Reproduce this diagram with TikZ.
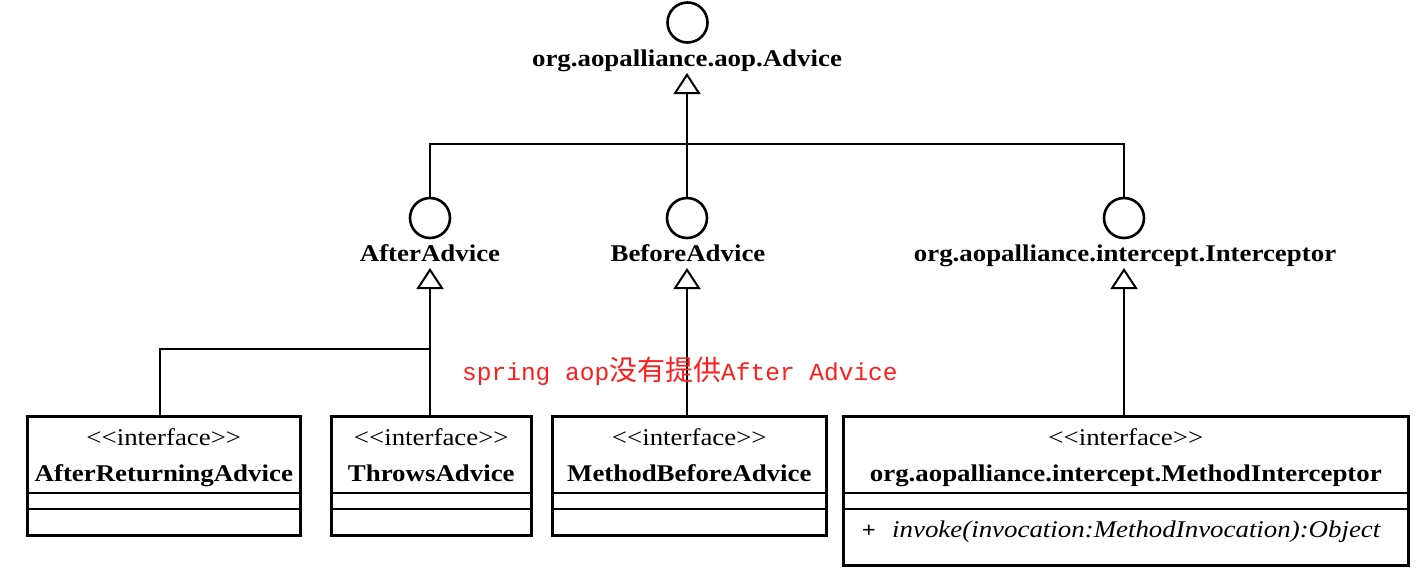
\documentclass[tikz,border=0pt]{standalone}
\usepackage{fontspec}
\setmainfont{Liberation Serif}[FakeStretch=1.12]
\newfontfamily\monof{Liberation Mono}
\newfontfamily\cjkf{Noto Sans CJK SC}
\usetikzlibrary{arrows.meta,calc}
\definecolor{notered}{RGB}{255,30,30}
\newcommand\stereotxt{<\kern0pt<interface>\kern0pt>}
\begin{document}
\begin{tikzpicture}[x=1pt,y=-1pt,
  conn/.style={line width=2pt},
  inh/.style={conn,-{Triangle[open,length=21pt,width=27pt,line width=2pt]}},
  iface/.style={circle,draw,line width=2.6pt,minimum size=40pt,inner sep=0pt},
  lbl/.style={anchor=base,inner sep=0pt,font=\fontsize{24}{28}\selectfont\bfseries},
  box/.style={draw,line width=2.6pt,anchor=north west,inner sep=0pt},
  sec/.style={line width=2pt},
  stereo/.style={anchor=base,inner sep=0pt,font=\fontsize{24}{28}\selectfont},
  cname/.style={anchor=base,inner sep=0pt,font=\fontsize{24}{28}\selectfont\bfseries},
]
\useasboundingbox[fill=white] (0,0) rectangle (1419,568);

% interfaces (lollipops)
\node[iface] (advc) at (687.5,22.5) {};
\node[lbl] (advl) at (687,66) {org.aopalliance.aop.Advice};
\coordinate (advtip) at (687,73);

\node[iface] (aftc) at (430,218) {};
\node[iface] (befc) at (687,218) {};
\node[iface] (intc) at (1124,218) {};
\node[lbl] (aftl) at (430,261) {AfterAdvice};
\node[lbl] (befl) at (688,261) {BeforeAdvice};
\node[lbl] (intl) at (1125,261) {org.aopalliance.intercept.Interceptor};
\coordinate (afttip) at (430,268);
\coordinate (beftip) at (687,268);
\coordinate (inttip) at (1124,268);

\coordinate (j0) at (687,144);
\coordinate (j1) at (430,349);

\draw[inh] (befc.north) -- (advtip);
\draw[conn] (aftc.north) |- (j0) -| (intc.north);

% class boxes
\node[box,minimum width=273pt,minimum height=119pt] (ara) at (26,415) {};
\node[box,minimum width=200pt,minimum height=119pt] (thr) at (330,415) {};
\node[box,minimum width=274pt,minimum height=119pt] (mba) at (551,415) {};
\node[box,minimum width=565pt,minimum height=149pt] (mi) at (842,415) {};

\foreach \b in {ara,thr,mba,mi}{
  \draw[sec] ($(\b.north west)+(0,78)$) -- ($(\b.north east)+(0,78)$);
  \draw[sec] ($(\b.north west)+(0,94)$) -- ($(\b.north east)+(0,94)$);
  \node[stereo] at ($(\b.north)+(0,30)$) {\stereotxt};
}
\node[cname] (aran) at ($(ara.north)+(0,66)$) {AfterReturningAdvice};
\node[cname] (thrn) at ($(thr.north)+(0,66)$) {ThrowsAdvice};
\node[cname] (mban) at ($(mba.north)+(0,66)$) {MethodBeforeAdvice};
\node[cname] (min) at ($(mi.north)+(0,66)$) {org.aopalliance.intercept.MethodInterceptor};
\node[anchor=base,inner sep=0pt,font=\fontsize{22}{24}\selectfont\bfseries] (plus) at (869,537) {+};
\node[anchor=base west,inner sep=0pt,font=\fontsize{24}{28}\selectfont\itshape] (op) at (892,537) {invoke(invocation:MethodInvocation):Object};

% generalisations
\draw[conn] ($(ara.north)+(-3.5,0)$) |- (j1);
\draw[inh] (thr.north -| afttip) -- (afttip);
\draw[inh] (mba.north -| beftip) -- (beftip);
\draw[inh] (mi.north -| inttip) -- (inttip);

% note
\node[anchor=base west,inner sep=0pt,text=notered] (note) at (462,380)
  {{\monof\fontsize{24.5}{28}\selectfont spring aop}{\cjkf\fontsize{28}{30}\selectfont 没有提供}{\monof\fontsize{24.5}{28}\selectfont After Advice}};
\end{tikzpicture}
\end{document}
